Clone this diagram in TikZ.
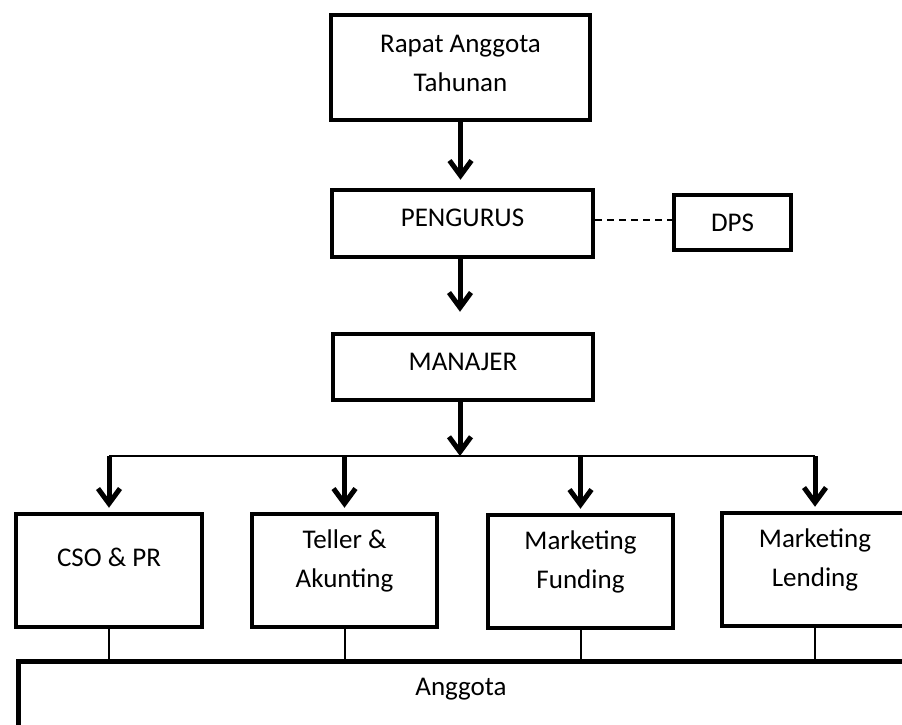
\documentclass[tikz,border=0pt]{standalone}
\usepackage{fontspec}
\setmainfont{Carlito}
\usetikzlibrary{arrows.meta}
\tikzset{
  unit/.style={draw, line width=4.5pt, align=center, inner sep=2pt,
    font=\fontsize{27}{39}\selectfont},
  downarrow/.style={line width=5pt, -{Straight Barb[length=15pt,width=22pt]}},
  thinline/.style={line width=2pt}
}
\begin{document}
\begin{tikzpicture}[x=1pt,y=-1pt]
\useasboundingbox (0,0) rectangle (902,724);
% Draw the top boxes
\node[unit, minimum width=259pt, minimum height=105pt, text depth=9pt] (rat) at (460.5,67.5) {Rapat Anggota\\Tahunan};
\node[unit, minimum width=261pt, minimum height=67pt, text depth=11pt] (pengurus) at (462.5,223.5) {PENGURUS};
\node[unit, minimum width=117pt, minimum height=55pt] (dps) at (732.5,222.5) {DPS};
\node[unit, minimum width=260pt, minimum height=66pt, text depth=10pt] (manajer) at (463,367) {MANAJER};

% Draw the four units
\node[unit, minimum width=186pt, minimum height=113pt, text depth=26pt] (cso) at (109,570.5) {CSO \& PR};
\node[unit, minimum width=185pt, minimum height=113pt, text depth=23pt] (teller) at (344.5,570.5) {Teller \&\\Akunting};
\node[unit, minimum width=185pt, minimum height=113pt, text depth=23pt] (funding) at (580.5,571.5) {Marketing\\Funding};
\node[unit, minimum width=186pt, minimum height=113pt, text depth=23pt] (lending) at (815,569.5) {Marketing\\Lending};

% Draw the members box
\node[draw, line width=4.5pt, anchor=north west, minimum width=920pt, minimum height=100pt] (anggota) at (16,659) {};
\node[font=\fontsize{27}{39}\selectfont] (anggotatext) at (461,689) {Anggota};

\coordinate (bus) at (460,456);

% Draw the arrows
\draw[downarrow, shorten >=8pt] (rat.south) -- (rat.south |- pengurus.north);
\draw[downarrow, shorten >=20pt] (pengurus.south -| bus) -- (manajer.north -| bus);
\draw[downarrow] (manajer.south -| bus) -- (bus);
\draw[thinline, dash pattern=on 7pt off 5pt] ([yshift=4pt]pengurus.east) -- ([yshift=4pt]pengurus.east -| dps.west);

\draw[thinline] (cso.north |- bus) -- (lending.north |- bus);
\draw[downarrow, shorten >=4pt] (cso.north |- bus) -- (cso.north);
\draw[downarrow, shorten >=4pt] (teller.north |- bus) -- (teller.north);
\draw[downarrow, shorten >=4pt] (funding.north |- bus) -- (funding.north);
\draw[downarrow, shorten >=4pt] (lending.north |- bus) -- (lending.north);

\draw[thinline] (cso.south) -- (cso.south |- anggota.north);
\draw[thinline] (teller.south) -- (teller.south |- anggota.north);
\draw[thinline] (funding.south) -- (funding.south |- anggota.north);
\draw[thinline] (lending.south) -- (lending.south |- anggota.north);
\end{tikzpicture}
\end{document}
